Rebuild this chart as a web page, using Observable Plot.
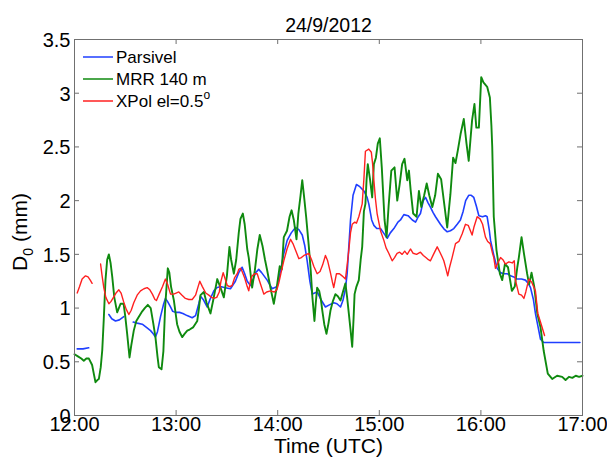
<!DOCTYPE html>
<html><head><meta charset="utf-8">
<script src="https://cdn.jsdelivr.net/npm/d3@7"></script>
<script src="https://cdn.jsdelivr.net/npm/@observablehq/plot@0.6"></script>
<style>
body{margin:0;background:#fff}
#chart svg{font-family:"Liberation Sans",Arial,sans-serif;background:#fff}
</style>
</head><body><div id="chart"></div>
<script>
const title = "24/9/2012";
const xLabel = "Time (UTC)";
const xTickValues = [0, 60, 120, 180, 240, 300];
const xTickLabels = ["12:00", "13:00", "14:00", "15:00", "16:00", "17:00"];
const yTickValues = [0, 0.5, 1, 1.5, 2, 2.5, 3, 3.5];
const yTickLabels = ["0", "0.5", "1", "1.5", "2", "2.5", "3", "3.5"];
const seriesNames = ["Parsivel", "MRR 140 m", "XPol el=0.5"];
const seriesColors = ["#1f3fff", "#0f8a0f", "#ff2020"];

// minutes after 12:00 UTC, D0 in mm (null = gap)
const parsivelTime = [1.6,5,8.4,14,20.3,22,24.2,26.5,29.1,32,34.7,37,40,42.5,44.9,46.5,47.8,49,50.8,52.5,53.7,55,56.7,58,59.6,62,64,66.5,69.5,71.5,73.4,74.4,76,78.4,80,82.3,84,86.2,89,92.1,95,97,99,100.5,102,103.9,105.5,107,108.8,110.5,113.8,116.7,119.7,121.7,123.5,125.6,128,130.5,132.5,134.5,136,137.4,139,140.4,143.3,145.5,148.2,150.5,153.1,155,157.1,158.5,160,161,163,164.5,166.5,168.5,170.9,172.8,173.8,175.5,176.8,178.5,180.7,182.5,184.7,186.5,188.6,191,192.5,194.5,197,199.5,201.4,203,204.3,206,207.3,208.8,210.2,211.7,213.2,216.1,218,220.1,222,224,226,227.9,229.5,231,232.8,234.3,235.8,237.3,238.8,241,242.7,243.7,245,245.7,247.5,249.6,251.5,253.5,255.5,257.5,259.4,261.4,264,266.3,268,269.3,271,272.2,273.7,275.2,277.1,280,290,298.5];
const parsivelD0 = [0.62,0.62,0.63,null,0.94,0.90,0.88,0.89,0.92,null,0.87,0.86,0.85,0.82,0.79,0.76,0.73,0.78,0.92,1.03,1.09,1.06,1.01,0.97,0.96,0.96,0.95,0.93,0.91,0.93,1.04,1.11,1.08,1.01,1.08,1.16,1.19,1.2,1.19,1.18,1.25,1.33,1.38,1.32,1.25,1.21,1.27,1.33,1.36,1.33,1.26,1.18,1.2,1.35,1.5,1.63,1.7,1.75,1.73,1.68,1.58,1.44,1.25,1.13,1.15,1.08,1.01,1.03,1.05,1.04,1.01,1.07,1.18,1.32,1.82,2.05,2.15,2.13,2.09,2.03,1.97,1.82,1.77,1.74,1.74,1.7,1.65,1.7,1.74,1.8,1.82,1.87,1.86,1.82,1.80,1.85,1.88,2.0,2.03,1.98,1.94,1.89,1.85,1.78,1.74,1.71,1.72,1.74,1.78,1.82,1.9,2.0,2.05,2.05,2.03,1.95,1.86,1.85,1.86,1.85,1.72,1.63,1.5,1.37,1.33,1.32,1.32,1.3,1.29,1.27,1.27,1.26,1.23,1.19,1.08,0.95,0.83,0.71,0.68,0.68,0.68,0.68];

const mrrTime = [0,2,4,5.5,7,8.5,10.4,11.5,12.4,13.5,14.4,15.5,16.4,17.3,18.3,19.3,20.3,21.3,22.3,23.5,25.2,26.2,27.2,29,30,31.1,32.5,33.5,35,36.5,38,40,41.5,43.3,45,46.5,47.8,49,49.8,51.4,52.5,53.5,55.1,56,57,58.7,60.6,62,63.6,65,66.6,68,70,72.5,73.5,74.4,76.4,78,80.3,82,84.3,86,88.2,90,91.5,92.5,94.1,95.5,97,98,99.4,100.5,102,102.9,104.9,106.5,108,109.4,111,112.5,113.8,115.7,117.7,119.5,121.2,122.4,123.6,125.5,127,128.2,129.5,131.1,132.2,133.5,134.5,135.5,136.8,138.4,139.5,140.5,141.7,142.5,143.3,144.5,145.5,146.3,147.5,148.8,150,151.2,152.5,154.1,155.5,157.1,158.5,160,161,162,163,164,164.8,165.4,166.5,167.9,169,169.9,170.9,171.8,172.5,173.2,174.5,175.8,176.8,178,179.1,180.3,181.5,183.1,184.3,185.5,187.1,189,190.6,192,193.5,194.9,196.5,197.5,198.5,200,202,203.4,204.8,206.5,208,209.5,211.3,213,214.6,216.5,218.1,220.1,221,222,223.6,225,226.4,228,229.9,231.5,232.8,234,234.8,236.2,237.3,238.8,240.2,241.5,243.7,245.3,246.2,246.7,247.6,249.2,251.2,252.6,254.2,256,258.3,260,261.5,262.4,264,265.5,267.3,268.5,269.9,271.5,273.3,275.2,277.1,279.5,282.1,285,288,290,292,294,296,298,300];
const mrrD0 = [0.57,0.55,0.53,0.51,0.53,0.53,0.47,0.38,0.31,0.33,0.34,0.45,0.61,0.9,1.26,1.45,1.50,1.42,1.29,1.1,0.96,1.0,1.04,1.04,0.92,0.76,0.54,0.65,0.79,0.88,0.92,0.97,1.0,1.03,1.0,0.86,0.73,0.55,0.45,0.43,0.6,1.0,1.37,1.33,1.2,1.07,0.85,0.78,0.73,0.76,0.79,0.80,0.82,0.88,1.0,1.12,1.15,1.05,0.95,1.08,1.27,1.2,1.10,1.3,1.57,1.45,1.32,1.45,1.7,1.83,1.88,1.78,1.55,1.47,1.19,1.35,1.55,1.68,1.58,1.45,1.35,1.19,1.04,1.2,1.39,1.36,1.66,1.72,1.85,1.91,1.82,1.64,1.88,2.05,2.19,2.05,1.85,1.57,1.35,1.1,0.88,1.05,1.19,1.16,1.08,0.98,0.85,0.76,0.86,0.98,1.06,1.13,1.11,1.07,1.15,1.23,1.1,0.95,0.8,0.64,0.9,1.13,1.2,1.26,1.45,1.57,1.9,1.97,2.2,2.34,2.2,2.03,2.34,2.40,2.53,2.58,2.3,1.82,1.66,1.95,2.28,2.31,2.00,2.15,2.34,2.39,2.19,2.28,2.1,1.88,1.85,2.09,1.94,2.05,2.16,2.05,1.94,2.05,2.25,2.2,2.00,1.75,1.9,2.06,2.40,2.35,2.47,2.62,2.76,2.53,2.37,2.6,2.75,2.90,2.68,2.68,3.15,3.1,3.06,2.96,2.7,2.5,1.85,1.54,1.32,1.26,1.41,1.38,1.16,1.2,1.38,1.47,1.66,1.5,1.32,1.22,1.33,1.2,0.95,0.82,0.60,0.39,0.34,0.37,0.36,0.33,0.36,0.35,0.37,0.36,0.37];

const xpolTime = [1.6,3,4.5,6.5,8,9.3,10.4,13,15.4,16.3,17.3,18.5,20.3,21.5,23,24.5,26.2,27.5,29,30.5,32.1,33.5,35,37,39,41,42.9,44.5,46,47.5,48.4,50,52,53.7,55,56.7,58.5,60,61.6,63.5,65.5,67.5,69.5,71.5,73,74,75.5,77.5,79.3,81,82.3,84,85.5,86.5,87.8,89,90.2,91.7,93.1,94.5,96.1,97,98,99,100.5,102,102.9,104,104.9,106.5,107.9,109.5,111.8,113.5,115.7,118,119.5,120.6,122,123.6,125.5,127.6,129,130.5,132.5,134,135.5,137,138.4,140,141.3,143.3,145,146.5,148.2,149.5,151,152.2,153.1,154.7,156.5,158,160,161,162,163,164,165.5,166.5,167.9,169.9,170.9,171.8,173.8,175.3,176,176.8,177.7,178.7,180.7,182.7,184,185.6,187.6,189,190.5,192,193.5,195,196.5,198.4,200,202,204.3,206,207.5,209,210.2,212,214.2,215.8,217,218.1,219.3,220.4,221.5,223,225,227,228.9,230.9,232.5,234.8,236,237.8,239.5,241,242.7,244,245.5,246.7,247.6,248.6,250,251.6,253,254.5,256.5,258.5,259.7,260.4,262.4,264,265.4,266.5,268.3,270,272.2,273.6,275,277.6];
const xpolD0 = [1.14,1.2,1.27,1.30,1.29,1.26,1.23,null,1.41,1.3,1.19,1.1,1.04,1.06,1.1,1.14,1.17,1.14,1.06,0.99,0.94,0.98,1.05,1.12,1.16,1.18,1.19,1.17,1.13,1.08,1.07,1.13,1.2,1.27,1.22,1.13,1.13,1.14,1.15,1.12,1.09,1.08,1.08,1.12,1.2,1.25,1.2,1.14,1.12,1.1,1.09,1.1,1.15,1.25,1.33,1.27,1.21,1.2,1.21,1.28,1.32,1.36,1.37,1.34,1.28,1.2,1.16,1.26,1.30,1.32,1.32,1.24,1.13,1.15,1.16,1.15,1.17,1.23,1.33,1.44,1.55,1.64,1.6,1.54,1.46,1.47,1.49,1.5,1.51,1.45,1.39,1.32,1.34,1.4,1.49,1.44,1.34,1.25,1.19,1.32,1.32,1.3,1.27,1.4,1.54,1.7,1.78,1.8,1.79,1.85,1.97,2.2,2.46,2.48,2.45,2.35,2.19,2.02,1.88,1.72,1.63,1.56,1.51,1.44,1.47,1.51,1.52,1.5,1.53,1.5,1.55,1.51,1.5,1.52,1.49,1.47,1.45,1.44,1.5,1.57,1.52,1.48,1.44,1.37,1.30,1.38,1.47,1.60,1.62,1.69,1.78,1.77,1.68,1.76,1.85,1.83,1.78,1.66,1.62,1.6,1.52,1.47,1.37,1.42,1.47,1.45,1.41,1.43,1.42,1.44,1.26,1.13,1.12,1.09,1.15,1.27,1.24,1.16,0.95,0.88,0.745];

const toRows = (ts, vs) => ts.map((t, i) => ({t, v: vs[i]}));
const parsivel = toRows(parsivelTime, parsivelD0);
const mrr = toRows(mrrTime, mrrD0);
const xpol = toRows(xpolTime, xpolD0);

const W = 607, H = 464, mL = 74, mR = 25, mT = 39, mB = 49;
const innerW = W - mL - mR, innerH = H - mT - mB;
const axisColor = "#707070";
const FONT = "'Liberation Sans', Arial, sans-serif";

const chart = Plot.plot({
  width: W, height: H,
  marginLeft: mL, marginRight: mR, marginTop: mT, marginBottom: mB,
  style: {fontFamily: FONT, background: "#fff", color: "#000"},
  x: {domain: [0, 300], axis: null},
  y: {domain: [0, 3.5], axis: null},
  marks: [
    Plot.line(parsivel, {x: "t", y: "v", stroke: seriesColors[0], strokeWidth: 1.6}),
    Plot.line(mrr, {x: "t", y: "v", stroke: seriesColors[1], strokeWidth: 1.9}),
    Plot.line(xpol, {x: "t", y: "v", stroke: seriesColors[2], strokeWidth: 1.4}),
    Plot.frame({stroke: axisColor}),
    Plot.tickX(xTickValues, {x: d => d, insetTop: innerH - 5, stroke: axisColor}),
    Plot.tickX(xTickValues, {x: d => d, insetBottom: innerH - 5, stroke: axisColor}),
    Plot.tickY(yTickValues, {y: d => d, insetRight: innerW - 5, stroke: axisColor}),
    Plot.tickY(yTickValues, {y: d => d, insetLeft: innerW - 5, stroke: axisColor}),
    Plot.text(xTickValues, {x: d => d, text: d => xTickLabels[xTickValues.indexOf(d)], frameAnchor: "bottom", dy: 15, fontSize: 20, fill: "#000"}),
    Plot.text(yTickValues, {y: d => d, text: d => yTickLabels[yTickValues.indexOf(d)], frameAnchor: "left", dx: -4, dy: 1, textAnchor: "end", fontSize: 20, fill: "#000"}),
    Plot.text([xLabel], {frameAnchor: "bottom", dy: 37, fontSize: 21, fill: "#000"}),
    Plot.text([title], {frameAnchor: "top", dy: -21, fontSize: 19.5, fill: "#000"})
  ]
});
document.getElementById("chart").appendChild(chart);

const svg = d3.select(chart);
// y-axis label with subscript
const yl = svg.append("text")
  .attr("transform", "translate(27,232) rotate(-90)")
  .attr("text-anchor", "middle").attr("font-size", 21).attr("font-family", FONT).attr("fill", "#000");
yl.append("tspan").text("D");
yl.append("tspan").attr("dy", 6).attr("font-size", 14).text("0");
yl.append("tspan").attr("dy", -6).text(" (mm)");

// legend
const leg = svg.append("g").attr("font-size", 17).attr("font-family", FONT).attr("text-anchor", "start");
const legY = [57, 79, 101];
seriesNames.forEach((name, i) => {
  leg.append("line").attr("x1", 83).attr("x2", 113).attr("y1", legY[i]).attr("y2", legY[i])
    .attr("stroke", seriesColors[i]).attr("stroke-width", 1.5);
  const tx = leg.append("text").attr("x", 116).attr("y", legY[i]).attr("dy", "0.35em").attr("fill", "#000").text(name);
  if (i === 2) tx.append("tspan").attr("dy", -8).attr("font-size", 12).text("o");
});
</script>
</body></html>
